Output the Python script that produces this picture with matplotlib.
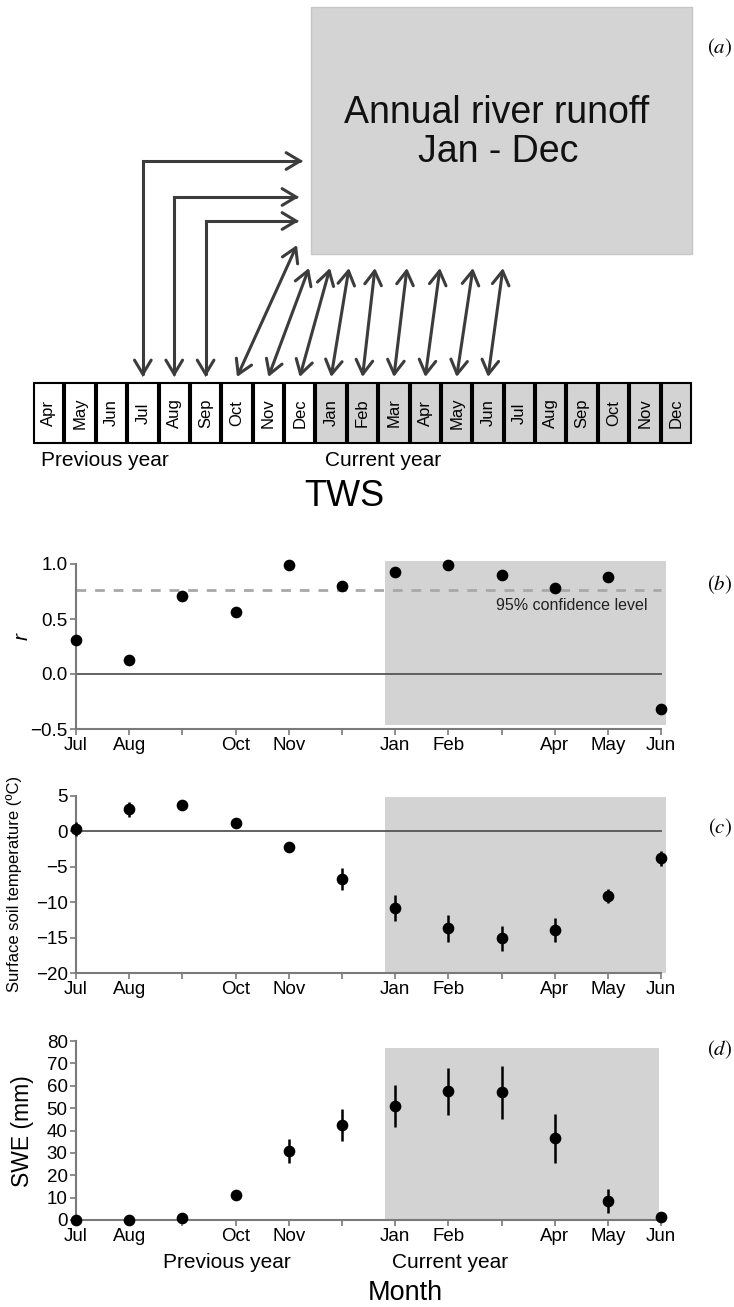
import numpy as np
import matplotlib
matplotlib.use('Agg')
import matplotlib.pyplot as plt
from matplotlib.patches import Rectangle, FancyArrowPatch

plt.rcParams['font.family'] = ['Liberation Sans', 'DejaVu Sans']
plt.rcParams['mathtext.fontset'] = 'stix'

# ---- data ----
months = ['Jul', 'Aug', 'Sep', 'Oct', 'Nov', 'Dec', 'Jan', 'Feb', 'Mar', 'Apr', 'May', 'Jun']
month_ticks = ['Jul', 'Aug', '', 'Oct', 'Nov', '', 'Jan', 'Feb', '', 'Apr', 'May', 'Jun']
tws_months = ['Apr', 'May', 'Jun', 'Jul', 'Aug', 'Sep', 'Oct', 'Nov', 'Dec',
              'Jan', 'Feb', 'Mar', 'Apr', 'May', 'Jun', 'Jul', 'Aug', 'Sep', 'Oct', 'Nov', 'Dec']
n_prev = 9  # Apr..Dec of previous year

r_values = [0.31, 0.13, 0.71, 0.56, 0.99, 0.80, 0.93, 0.99, 0.90, 0.785, 0.88, -0.315]
conf_level = 0.76

soil_t = [0.3, 3.1, 3.7, 1.2, -2.2, -6.7, -10.8, -13.7, -15.1, -13.9, -9.1, -3.8]
soil_err = [1.0, 1.1, 0.5, 0.4, 0.5, 1.6, 1.8, 1.9, 1.8, 1.7, 1.0, 1.1]

swe = [0, 0, 1, 11, 30.8, 42.5, 51, 57.5, 57, 36.5, 8.5, 1.2]
swe_err = [0.3, 0.5, 1.5, 2.0, 5.4, 7.3, 9.3, 10.5, 11.9, 11.0, 5.5, 0.5]

# ---- figure ----
W, H = 734, 1307
fig = plt.figure(figsize=(W / 100, H / 100), dpi=100)

SHADE = '#d3d3d3'
AXC = '#7a7a7a'
ARC = '#3c3c3c'

# ---- panel (a): diagram, in pixel coords ----
axa = fig.add_axes([0, 1 - 520 / H, 1, 520 / H])
axa.set_xlim(0, W)
axa.set_ylim(520, 0)
axa.axis('off')

axa.add_patch(Rectangle((311, 7), 380.5, 247, facecolor='#d4d4d4', edgecolor='#c6c6c6', lw=1))
axa.text(497, 113, 'Annual river runoff', ha='center', va='center', fontsize=27, color='#111111')
axa.text(498, 152, 'Jan - Dec', ha='center', va='center', fontsize=27, color='#111111')

bx0, bw, by0, by1 = 33, 31.38, 383, 443
def box_center(i):
    return bx0 + (i + 0.5) * bw

for i, m in enumerate(tws_months):
    fc = 'white' if i < n_prev else SHADE
    axa.add_patch(Rectangle((bx0 + i * bw + 1, by0), bw - 2, by1 - by0,
                            facecolor=fc, edgecolor='black', lw=1.5))
    axa.text(box_center(i), (by0 + by1) / 2, m, rotation=90, ha='center', va='center',
             fontsize=12)

arrow_bottom = 377
astyle = '<->,head_length=10,head_width=6'
# L-shaped arrows from Jul, Aug, Sep of previous year
l_rows = [(3, 161, 303), (4, 197, 299), (5, 221, 299)]
for i, yc, xt in l_rows:
    axa.add_patch(FancyArrowPatch((xt, yc), (box_center(i), arrow_bottom),
                                  connectionstyle='angle,angleA=0,angleB=90,rad=0',
                                  arrowstyle=astyle,
                                  color=ARC, lw=2.2, shrinkA=0, shrinkB=0,
                                  joinstyle='miter'))
# diagonal arrows Oct..Jun
upper_tips = [(297, 245), (309, 268), (330, 268), (349, 268), (375, 268),
              (407, 268), (440, 268), (473, 268), (503, 268)]
for k, (xt, yt) in enumerate(upper_tips):
    i = 6 + k
    axa.add_patch(FancyArrowPatch((box_center(i), arrow_bottom), (xt, yt),
                                  arrowstyle=astyle,
                                  color=ARC, lw=2.2, shrinkA=0, shrinkB=0))

axa.text(41, 460, 'Previous year', ha='left', va='center', fontsize=15)
axa.text(383, 460, 'Current year', ha='center', va='center', fontsize=15)
axa.text(344, 497, 'TWS', ha='center', va='center', fontsize=26)

# ---- panels b-d ----
x = np.arange(len(months))
xlim = (0, 11.08)
ax_left, ax_w = 76 / W, 589.5 / W

def make_ax(top_px, bottom_px):
    return fig.add_axes([ax_left, 1 - bottom_px / H, ax_w, (bottom_px - top_px) / H])

def style(ax, ylo, yhi, yticks, ylabels):
    ax.set_xlim(*xlim)
    ax.set_ylim(ylo, yhi)
    for s in ['top', 'right']:
        ax.spines[s].set_visible(False)
    for s in ['left', 'bottom']:
        ax.spines[s].set_color(AXC)
        ax.spines[s].set_linewidth(1.5)
    ax.spines['bottom'].set_bounds(0, 11)
    ax.spines['left'].set_bounds(yticks[0], yticks[-1])
    ax.set_xticks(x)
    ax.set_xticklabels(month_ticks)
    ax.set_yticks(yticks)
    ax.set_yticklabels(ylabels)
    ax.tick_params(direction='out', length=4.5, width=1.2, color=AXC, labelsize=13.5, pad=1.5)
    ax.set_facecolor('none')

# (b)
axb = make_ax(560.7, 729)
axb.fill_between([5.81, 11.08], -0.465, 1.027, color=SHADE, lw=0, zorder=0)
axb.plot([0, 11], [conf_level, conf_level], color='#a8a8a8', lw=2, dashes=(3.5, 3.2), zorder=1)
axb.plot([0, 11], [0, 0], color='#555555', lw=1.3, zorder=1)
axb.plot(x, r_values, 'o', color='black', ms=7.4, clip_on=False, zorder=3)
axb.text(10.75, 0.627, '95% confidence level', ha='right', va='center', fontsize=11.5, color='#222222')
style(axb, -0.5, 1.03, [-0.5, 0.0, 0.5, 1.0], ['\u22120.5', '0.0', '0.5', '1.0'])
fig.text(22 / W, 1 - 637 / H, 'r', rotation=90, ha='center', va='center', fontsize=15, style='italic')

# (c)
axc = make_ax(796, 973)
axc.fill_between([5.81, 11.08], -20, 4.8, color=SHADE, lw=0, zorder=0)
axc.plot([0, 11], [0, 0], color='#555555', lw=1.3, zorder=1)
ebc = axc.errorbar(x, soil_t, yerr=soil_err, fmt='o', color='black', ms=7.4,
                   elinewidth=1.8, capsize=0, zorder=3)
for art in ebc.get_children():
    art.set_clip_on(False)
style(axc, -20, 5, [-20, -15, -10, -5, 0, 5], ['\u221220', '\u221215', '\u221210', '\u22125', '0', '5'])
fig.text(14 / W, 1 - 884 / H, 'Surface soil temperature (\u00baC)', rotation=90,
         ha='center', va='center', fontsize=12)

# (d)
axd = make_ax(1041, 1220)
axd.fill_between([5.81, 10.96], 0, 77, color=SHADE, lw=0, zorder=0)
ebd = axd.errorbar(x, swe, yerr=swe_err, fmt='o', color='black', ms=7.4,
                   elinewidth=1.8, capsize=0, zorder=3)
for art in ebd.get_children():
    art.set_clip_on(False)
style(axd, 0, 80, list(range(0, 81, 10)), [str(v) for v in range(0, 81, 10)])
fig.text(22 / W, 1 - 1131 / H, 'SWE (mm)', rotation=90, ha='center', va='center', fontsize=16.5)
fig.text(227 / W, 1 - 1263 / H, 'Previous year', ha='center', va='center', fontsize=15)
fig.text(450 / W, 1 - 1262 / H, 'Current year', ha='center', va='center', fontsize=15)
fig.text(405 / W, 1 - 1293 / H, 'Month', ha='center', va='center', fontsize=19.5)

# panel letters
for lab, ypx in [('a', 48), ('b', 585), ('c', 828), ('d', 1050)]:
    fig.text(720 / W, 1 - ypx / H, r'$(%s)$' % lab, ha='center', va='center', fontsize=15)

fig.savefig('out.png', dpi=100)
